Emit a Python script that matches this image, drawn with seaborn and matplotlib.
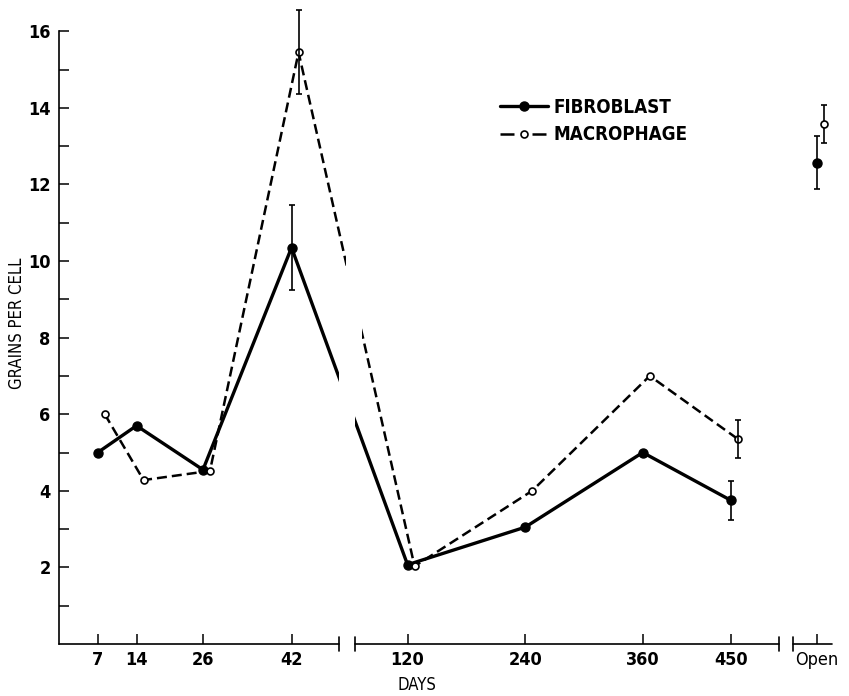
import numpy as np
import matplotlib
matplotlib.use("Agg")
import matplotlib.pyplot as plt
import matplotlib.transforms as mtransforms
from matplotlib.lines import Line2D
from matplotlib.path import Path
import seaborn as sns

# values
days = [7, 14, 26, 42, 120, 240, 360, 450]
fibroblast = [5.0, 5.7, 4.55, 10.35, 2.07, 3.05, 5.0, 3.75]
macrophage = [6.0, 4.28, 4.52, 15.45, 2.03, 4.0, 7.0, 5.35]
fibroblast_err = [np.nan, np.nan, np.nan, 1.1, np.nan, np.nan, np.nan, 0.5]
macrophage_err = [np.nan, np.nan, np.nan, 1.1, np.nan, np.nan, np.nan, 0.5]
open_fibroblast = [12.57]
open_fibroblast_err = [0.7]
open_macrophage = [13.58]
open_macrophage_err = [0.5]
tick_labels = ["7", "14", "26", "42", "120", "240", "360", "450", "Open"]

# broken day axis: three pieces, "Open" sits in the last one
OPEN_DAY = 540
scale_days = [-100, 0, 50.5, 66, 499, 520, 540, 560, 2000]
scale_pos = [-553, 0, 279.4, 295.4, 719.4, 733.4, 757, 772.4, 2176]
pieces = [(0, 50.5), (66, 499), (520, 560)]
gap = (50.5, 66)


def forward(d):
    return np.interp(d, scale_days, scale_pos)


def inverse(p):
    return np.interp(p, scale_pos, scale_days)


def clip_gap(artist, trans, lo, hi):
    # keep everything except the strip between lo and hi
    verts = [(-100, -1), (lo, -1), (lo, 2), (-100, 2), (-100, -1),
             (hi, -1), (2000, -1), (2000, 2), (hi, 2), (hi, -1)]
    codes = [Path.MOVETO, Path.LINETO, Path.LINETO, Path.LINETO, Path.CLOSEPOLY] * 2
    artist.set_clip_path(Path(verts, codes), trans)


sns.set_style("ticks")
plt.rcParams["font.family"] = ["DejaVu Sans"]
plt.rcParams["font.stretch"] = "condensed"
plt.rcParams["text.color"] = "black"
plt.rcParams["axes.labelcolor"] = "black"
plt.rcParams["xtick.color"] = "black"
plt.rcParams["ytick.color"] = "black"

fig = plt.figure(figsize=(8.49, 6.96), dpi=100)
ax = fig.add_axes([59 / 849, 52 / 696, 773 / 849, 641.5 / 696])
ax.set_xscale("function", functions=(forward, inverse))

shift = mtransforms.offset_copy(ax.transData, fig=fig, x=7, y=0, units="dots")

sns.lineplot(x=days, y=fibroblast, ax=ax, color="black", lw=2.4,
             marker="o", markersize=6.5, markeredgecolor="black", markeredgewidth=1)
fib_line = ax.lines[-1]
clip_gap(fib_line, mtransforms.blended_transform_factory(ax.transData, ax.transAxes), *gap)

sns.lineplot(x=days, y=macrophage, ax=ax, color="black", lw=1.8, linestyle=(0, (4, 2)),
             marker="o", markersize=5, markerfacecolor="white",
             markeredgecolor="black", markeredgewidth=1.2, transform=shift)
mac_line = ax.lines[-1]
clip_gap(mac_line, mtransforms.blended_transform_factory(shift, ax.transAxes), *gap)

eb_kw = dict(ecolor="black", elinewidth=1.2, capsize=2.5, capthick=1.2)
ax.errorbar(days, fibroblast, yerr=fibroblast_err, fmt="none", **eb_kw)
cont = ax.errorbar(days, macrophage, yerr=macrophage_err, fmt="none", **eb_kw)
for art in list(cont.lines[1]) + list(cont.lines[2]):
    art.set_transform(shift)

ax.errorbar([OPEN_DAY], open_fibroblast, yerr=open_fibroblast_err, fmt="o",
            color="black", ms=6.5, **eb_kw)
cont = ax.errorbar([OPEN_DAY], open_macrophage, yerr=open_macrophage_err, fmt="o",
                   color="black", ms=5, mfc="white", mew=1.2, **eb_kw)
for art in [cont.lines[0]] + list(cont.lines[1]) + list(cont.lines[2]):
    art.set_transform(shift)

ax.set_xlim(0, 560)
ax.set_ylim(0, 16.75)

# axes: left spine only up to 16, bottom drawn in pieces with break bars
sns.despine(ax=ax, bottom=True)
ax.spines["left"].set_bounds(0, 16)
ax.spines["left"].set_linewidth(1.2)
ax.spines["left"].set_color("black")
for lo, hi in pieces:
    ax.plot([lo, hi], [0, 0], color="black", lw=1.2, clip_on=False)
for b in [50.5, 66, 499, 520]:
    ax.plot([b, b], [-0.17, 0.17], color="black", lw=1.2, clip_on=False)

ax.set_xticks(days + [OPEN_DAY])
ax.set_xticklabels(tick_labels)
ax.xaxis.set_minor_locator(matplotlib.ticker.NullLocator())
ax.set_yticks(np.arange(2, 17, 2))
ax.set_yticks(np.arange(1, 16, 2), minor=True)
ax.tick_params(axis="x", direction="in", length=7, width=1.1, pad=5, labelsize=13)
ax.tick_params(axis="y", which="both", direction="in", length=7, width=1.1, pad=6,
               labelsize=13)
for t in ax.get_yticklabels():
    t.set_fontweight("bold")
for t in ax.get_xticklabels()[:-1]:
    t.set_fontweight("semibold")

ax.set_ylabel("GRAINS PER CELL", fontsize=12)
ax.yaxis.set_label_coords(-0.043, 0.5)
ax.set_xlabel("DAYS", fontsize=12, fontweight="medium")
ax.xaxis.set_label_coords((417 - 59) / 773, -0.05)

handles = [
    Line2D([], [], color="black", lw=2.4, marker="o", ms=6.5),
    Line2D([], [], color="black", lw=1.8, linestyle=(0, (5.6, 7.2)), marker="o",
           ms=5, mfc="white", mew=1.2),
]
ax.legend(handles, ["FIBROBLAST", "MACROPHAGE"], loc="upper left",
          bbox_to_anchor=(500 / 849, 1 - 98 / 696), bbox_transform=fig.transFigure,
          frameon=False, handlelength=2.55, handletextpad=0.3, labelspacing=0.45,
          borderpad=0, borderaxespad=0, prop={"size": 13.5, "weight": "bold"})

fig.savefig("out.png", dpi=100)
